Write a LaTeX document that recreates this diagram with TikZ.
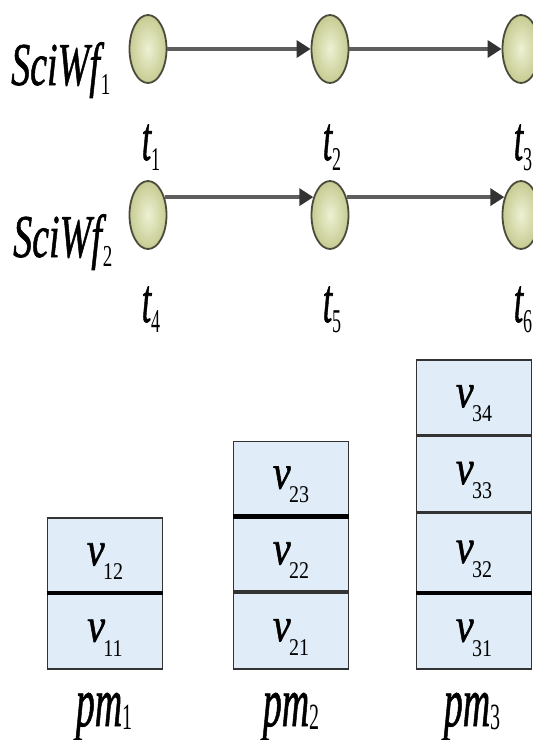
\documentclass[tikz,border=0pt]{standalone}
\usepackage{fontspec}
\setmainfont{Liberation Serif}[ItalicFeatures={FakeBold=1.2}]
\usetikzlibrary{shapes.geometric,arrows.meta}
\definecolor{cellfill}{HTML}{E0EDF8}
\definecolor{celledge}{HTML}{333333}
\definecolor{circin}{HTML}{EEF1D2}
\definecolor{circout}{HTML}{C6CB92}
\definecolor{circedge}{HTML}{4B4B3C}
\definecolor{arrowgray}{HTML}{5E5E5E}
\definecolor{tipdark}{HTML}{333333}
% size, vertical stretch, subscript size, subscript lowering, base, subscript
\newcommand\lab[6]{\scalebox{1}[#2]{\fontsize{#1}{#1}\selectfont\itshape #5\raisebox{-#4em}{\upshape\fontsize{#3}{#3}\selectfont #6}}}
\newcommand\tlab[2]{\lab{34}{1.85}{18}{0.16}{#1}{#2}}
\newcommand\vlab[2]{\lab{40}{1.2}{20}{0.30}{#1\kern-0.04em}{#2}}
\newcommand\plab[2]{\lab{38}{1.85}{20}{0.05}{#1}{#2}}
\newcommand\wlab[2]{\lab{38}{1.6}{19}{0.16}{#1\kern0.03em}{#2}}
\tikzset{
  task/.style={ellipse, draw=circedge, line width=1.8pt, inner color=circin, outer color=circout, minimum width=37pt, minimum height=68pt, inner sep=0pt},
  flow/.style={draw=arrowgray, line width=3.4pt, -{Triangle[length=14pt,width=17pt,color=tipdark]}},
  cell/.style={draw=celledge, line width=1.8pt, fill=cellfill, minimum width=115pt, minimum height=#1, inner sep=0pt, anchor=south, text height=20pt, text depth=0pt},
  divider/.style={draw=black, line width=4.5pt},
  txt/.style={inner sep=0pt, anchor=base}
}
\begin{document}
\begin{tikzpicture}[x=1pt,y=-1pt]
\useasboundingbox (0,0) rectangle (533,740);
\clip (0,0) rectangle (533,740);
% tasks
\node[task] (t1) at (148,49) {};
\node[task] (t2) at (330,49) {};
\node[task] (t3) at (521,49) {};
\node[task] (t4) at (148,215) {};
\node[task] (t5) at (330,215) {};
\node[task] (t6) at (521,215) {};
\draw[flow] (t1) -- (t2);
\draw[flow] (t2) -- (t3);
\draw[flow] (t4.47) -- (t5.133);
\draw[flow] (t5.47) -- (t6.133);
% workflow labels
\node[txt, anchor=base west] (w1) at (11,85) {\wlab{SciWf}{1}};
\node[txt, anchor=base west] (w2) at (13,257) {\wlab{SciWf}{2}};
% task labels
\node[txt] (l1) at (151,160) {\tlab{t}{1}};
\node[txt] (l2) at (332,160) {\tlab{t}{2}};
\node[txt] (l3) at (523,160) {\tlab{t}{3}};
\node[txt] (l4) at (151,322) {\tlab{t}{4}};
\node[txt] (l5) at (332,322) {\tlab{t}{5}};
\node[txt] (l6) at (523,322) {\tlab{t}{6}};
% pm1
\node[cell=75pt] (v11) at (105,670) {\vlab{v}{11}};
\node[cell=74pt] (v12) at (v11.north) {\vlab{v}{12}};
% pm2
\node[cell=76pt] (v21) at (291,670) {\vlab{v}{21}};
\node[cell=74pt] (v22) at (v21.north) {\vlab{v}{22}};
\node[cell=74pt] (v23) at (v22.north) {\vlab{v}{23}};
% pm3
\node[cell=75pt] (v31) at (474,670) {\vlab{v}{31}};
\node[cell=79pt] (v32) at (v31.north) {\vlab{v}{32}};
\node[cell=75pt] (v33) at (v32.north) {\vlab{v}{33}};
\node[cell=75pt] (v34) at (v33.north) {\vlab{v}{34}};
% thick dividers
\draw[divider] (v11.north west) -- (v11.north east);
\draw[divider] (v22.north west) -- (v22.north east);
\draw[divider] (v31.north west) -- (v31.north east);
% machine labels
\node[txt] (pm1) at (104,726) {\plab{pm}{1}};
\node[txt] (pm2) at (291,726) {\plab{pm}{2}};
\node[txt] (pm3) at (472,726) {\plab{pm}{3}};
\end{tikzpicture}
\end{document}
